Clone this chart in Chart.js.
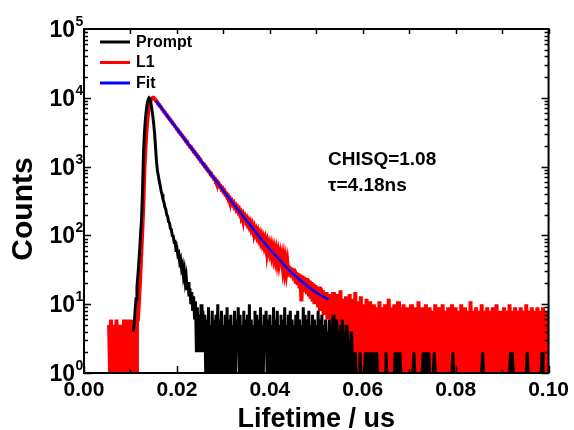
<!DOCTYPE html>
<html>
<head>
<meta charset="utf-8">
<script src="https://cdn.jsdelivr.net/npm/chart.js@4.4.1/dist/chart.umd.min.js"></script>
<style>
html,body{margin:0;padding:0;background:#fff;}
canvas{display:block;}
</style>
</head>
<body>
<canvas id="c" width="574" height="430"></canvas>
<script>
// ---- data (counts per 0.0002 us channel; 0 = no counts) ----
const channelWidth = 0.0002;
const promptStart = 0.0106;
const l1Start = 0.0054;

const promptCounts = [
  // rise and peak 0.0106 - 0.0156
  4,5,8,12,18,26,40,65,110,180,
  450,1500,3000,4700,6500,8200,9400,10000,9700,8400,
  6900,5500,4200,3000,1900,1200,
  // decay 0.0158 - 0.0240
  880,740,615,530,445,395,335,305,258,240,
  200,190,158,152,126,122,99,98,80,81,
  64,66,52,55,41,45,33,37,26,31,
  21,25,16,21,13,17,10,15,8,13,
  6,11,
  // 0.0242 - 0.0258
  2,9,2,7,2,10,2,8,2,
  // background 0.0260 - 0.0570
  7,1,6,1,9,1,5,1,8,1,
  6,1,7,2,10,1,6,1,8,1,
  5,1,7,1,9,1,6,1,7,1,
  5,1,8,1,6,2,9,1,7,1,
  5,1,8,1,6,1,7,1,10,1,
  6,1,5,1,8,1,7,1,6,1,
  9,1,5,1,7,2,8,1,6,1,
  7,1,5,1,9,1,6,1,8,1,
  5,1,7,1,6,1,9,1,5,1,
  7,1,8,1,6,1,5,2,7,1,
  8,1,6,1,5,1,9,1,7,1,
  6,1,8,1,5,1,7,1,6,1,
  5,1,8,1,6,1,7,1,5,1,
  6,1,4,1,6,1,5,1,7,1,
  5,1,6,1,4,1,5,1,6,1,
  4,1,5,1,4,1,
  // 0.0572 - 0.0580
  3,1,4,1,2,
  // 0.0582 - 0.1000
  1,2,1,0,0,1,2,1,0,0,
  0,1,2,1,2,1,2,1,2,1,
  2,1,2,1,2,1,0,0,0,0,
  0,0,0,1,2,1,0,0,0,0,
  0,0,0,1,2,1,1,2,1,2,
  1,0,0,0,0,0,0,0,0,0,
  0,0,0,1,2,1,0,0,0,0,
  0,0,0,1,2,1,2,1,2,1,
  2,1,0,0,0,1,2,1,0,0,
  0,0,0,0,0,0,0,0,0,0,
  0,0,0,0,0,1,2,1,0,0,
  0,0,0,0,0,0,0,0,0,0,
  0,0,0,0,0,0,0,0,0,0,
  0,0,0,0,0,0,0,1,2,1,
  0,0,0,0,0,0,0,0,0,0,
  0,0,0,0,0,0,0,0,0,0,
  0,0,0,0,0,0,0,1,2,1,
  2,1,0,0,0,0,0,0,0,0,
  0,0,0,0,0,1,2,1,0,0,
  0,0,0,0,0,0,0,0,0,0,
  0,1,2,1,0,0,0,0,0,0
];

const l1Counts = [
  // 0.0054 - 0.0114
  5,1,6,1,5,1,4,1,6,1,
  5,1,4,1,5,1,6,1,4,1,
  6,1,5,1,6,1,4,1,6,1,
  6,
  // rise 0.0116 - 0.0154
  6,10,18,35,70,140,320,900,1700,3000,
  4500,6000,7400,8500,9300,9800,10000,10000,9700,9300,
  // decay 0.0156 - 0.0530
  8880,8600,8150,7900,7480,7260,6880,6700,6300,6150,
  5800,5650,5330,5200,4900,4790,4500,4410,4150,4060,
  3810,3740,3510,3450,3220,3170,2970,2920,2730,2690,
  2510,2480,2300,2290,2120,2100,1950,1940,1800,1780,
  1650,1640,1520,1510,1400,1390,1290,1280,1180,1175,
  1090,1085,1000,1000,925,920,850,845,780,785,
  720,715,660,665,610,615,555,565,515,520,
  470,480,435,445,398,405,365,375,338,345,
  310,318,285,296,262,272,240,252,224,236,
  205,216,190,202,176,186,162,173,149,160,
  138,150,126,139,118,129,108,118,100,111,
  92,102,84,95,78,88,72,83,67,77,
  61,71,58,68,53,63,49,59,46,56,
  42,52,40,49,37,46,34,44,32,41,
  30,38,27,36,25,34,24,33,22,31,
  20,29,19,28,17,27,11,26,16,25,
  15,24,14,23,13,22,12,21,11,20,
  10,19,10,18,9,18,8,17,9,16,
  7,15,8,15,6,14,7,13,
  // tail 0.0532 - 0.1000
  13,2,15,1,12,2,14,1,11,1,
  16,2,12,1,10,1,13,2,11,1,
  14,1,10,1,12,1,15,1,9,1,
  11,1,13,1,
  10,1,8,1,12,1,9,2,11,1,
  7,1,10,1,9,1,8,2,11,1,
  9,1,7,1,10,1,8,1,12,1,
  9,1,7,2,10,1,8,1,11,1,
  9,1,7,1,10,1,8,1,9,1,
  8,1,10,1,7,1,9,2,8,1,
  11,1,7,1,9,1,8,1,10,1,
  6,1,9,1,8,2,7,1,10,1,
  8,1,9,1,7,1,10,1,8,1,
  7,1,9,1,8,1,10,2,7,1,
  9,1,7,1,8,1,10,1,7,2,
  9,1,8,1,7,1,11,1,8,1,
  7,1,9,1,8,1,7,2,10,1,
  8,1,7,1,9,1,8,1,7,1,
  9,1,8,1,10,1,7,1,8,1,
  7,1,9,1,8,1,7,2,10,1,
  8,1,7,1,9,1,8,1,7,1,
  9,1,8,1,7,1,10,1,8,2,
  7,1,9,1,8,1,7,1,9,1,
  8,1,7,1,9,1,8,1,7,1,
  8
];

const fitTimes  = [0.0155,0.018,0.020,0.022,0.024,0.026,0.028,0.030,0.032,0.034,0.036,0.038,0.040,0.042,0.044,0.046,0.048,0.050,0.0526];
const fitCounts = [9000,5370,3550,2340,1550,1020,676,447,295,200,135,91,63,45,32,24,18.6,14.8,11.7];

const xTickValues = [0, 0.02, 0.04, 0.06, 0.08, 0.10];
const yTickValues = [1, 10, 100, 1000, 10000, 100000];
const yTickExponents = ['0','1','2','3','4','5'];
const seriesLabels = ['Prompt', 'L1', 'Fit'];
const seriesColors = ['#000000', '#ff0000', '#0000ff'];
const annotationLines = ['CHISQ=1.08', '\u03C4=4.18ns'];

// ---- build datasets ----
function channelData(start, counts){
  return counts.map((c, i) => ({ x: +(start + i * channelWidth).toFixed(4), y: c > 0 ? c : null }));
}
const promptData = channelData(promptStart, promptCounts);
const l1Data = channelData(l1Start, l1Counts);
const fitData = fitTimes.map((t, i) => ({ x: t, y: fitCounts[i] }));

const FONT = '"Liberation Sans", Arial, Helvetica, sans-serif';
Chart.defaults.font.family = FONT;
Chart.defaults.color = '#000';

const decorPlugin = {
  id: 'decor',
  afterDatasetsDraw(chart){
    const {ctx, chartArea: a, scales: {x, y}} = chart;
    ctx.save();
    ctx.strokeStyle = '#000';
    ctx.lineWidth = 2;
    ctx.strokeRect(a.left, a.top, a.right - a.left, a.bottom - a.top);
    ctx.lineWidth = 1.5;
    ctx.beginPath();
    for (let k = 0; k <= 10; k++){
      const px = Math.round(x.getPixelForValue(k * 0.01)) + 0.5;
      const len = (k % 2 === 0) ? 7 : 4;
      ctx.moveTo(px, a.bottom); ctx.lineTo(px, a.bottom - len);
      ctx.moveTo(px, a.top); ctx.lineTo(px, a.top + 5);
    }
    for (let d = 0; d < 5; d++){
      for (let m = 1; m <= 9; m++){
        const v = m * Math.pow(10, d);
        const py = Math.round(y.getPixelForValue(v)) + 0.5;
        const len = m === 1 ? 7 : 4;
        ctx.moveTo(a.left, py); ctx.lineTo(a.left + len, py);
        ctx.moveTo(a.right, py); ctx.lineTo(a.right - len, py);
      }
    }
    ctx.stroke();
    ctx.restore();
  },
  afterDraw(chart){
    const {ctx, scales: {y}} = chart;
    ctx.save();
    ctx.fillStyle = '#000';
    yTickValues.forEach((v, i) => {
      const py = y.getPixelForValue(v);
      ctx.font = 'bold 23px ' + FONT;
      ctx.textAlign = 'right';
      ctx.textBaseline = 'alphabetic';
      ctx.fillText('10', 75, py + 8);
      ctx.font = 'bold 14px ' + FONT;
      ctx.textAlign = 'left';
      ctx.fillText(yTickExponents[i], 75.5, py - 3);
    });
    ctx.save();
    ctx.translate(24, 209);
    ctx.rotate(-Math.PI / 2);
    ctx.font = 'bold 30px ' + FONT;
    ctx.textAlign = 'center';
    ctx.textBaseline = 'middle';
    ctx.fillText('Counts', 0, 0);
    ctx.restore();
    const ly = [42, 62.5, 83];
    chart.data.datasets.forEach((ds, i) => {
      ctx.strokeStyle = ds.borderColor;
      ctx.lineWidth = 3;
      ctx.beginPath();
      ctx.moveTo(100, ly[i]); ctx.lineTo(130, ly[i]);
      ctx.stroke();
      ctx.font = 'bold 16px ' + FONT;
      ctx.textAlign = 'left';
      ctx.textBaseline = 'middle';
      ctx.fillText(ds.label, 136, ly[i] + 0.5);
    });
    ctx.font = 'bold 19px ' + FONT;
    ctx.textAlign = 'left';
    ctx.textBaseline = 'middle';
    ctx.fillText(annotationLines[0], 328, 160);
    ctx.fillText(annotationLines[1], 328, 186);
    ctx.restore();
  }
};

new Chart(document.getElementById('c'), {
  type: 'line',
  data: {
    datasets: [
      { label: seriesLabels[0], data: promptData, borderColor: seriesColors[0], borderWidth: 3, pointRadius: 0, order: 1, spanGaps: false },
      { label: seriesLabels[1], data: l1Data, borderColor: seriesColors[1], borderWidth: 4, pointRadius: 0, order: 2, spanGaps: false },
      { label: seriesLabels[2], data: fitData, borderColor: seriesColors[2], borderWidth: 2.5, pointRadius: 0, order: 0, cubicInterpolationMode: 'monotone' }
    ]
  },
  options: {
    responsive: false,
    animation: false,
    events: [],
    layout: { padding: { top: 29, right: 22, left: 0, bottom: 0 } },
    plugins: { legend: { display: false }, tooltip: { enabled: false } },
    scales: {
      x: {
        type: 'linear', min: 0, max: 0.1,
        afterBuildTicks: s => { s.ticks = xTickValues.map(v => ({ value: v })); },
        ticks: { callback: v => v.toFixed(2), font: { size: 21, weight: 'bold' }, color: '#000', padding: 5, maxRotation: 0, autoSkip: false },
        grid: { display: false, drawTicks: false },
        border: { display: false },
        title: { display: true, text: 'Lifetime / us', font: { size: 27, weight: 'bold', lineHeight: 0.75 }, color: '#000', padding: { top: 0, bottom: 0 } },
        afterFit: s => { s.height = 57; }
      },
      y: {
        type: 'logarithmic', min: 1, max: 100000,
        ticks: { display: false },
        grid: { display: false, drawTicks: false },
        border: { display: false },
        afterFit: s => { s.width = 84; }
      }
    }
  },
  plugins: [decorPlugin]
});
</script>
</body>
</html>
